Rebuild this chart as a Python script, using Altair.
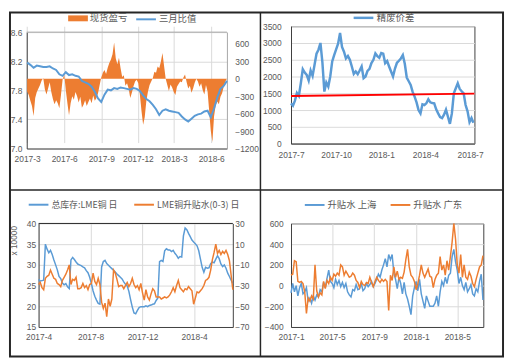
import altair as alt
import pandas as pd

# ---------------- data ----------------
# Panel 1: 现货盈亏 (right axis, every 4 days from 2017-03-01)
p1_pnl = [
    -220, -280, -380, -470, -640, -330, -230, -170, -110, -30,
    10, -180, -270, -170, -60, -230, -350, -440, -370, -420,
    -510, -280, -20, 70, -200, -420, -630, -420, -300, -360,
    -230, -300, -410, -310, -500, -450, -370, -470, -400, -340,
    -420, -290, -380, -330, -250, -110, 20, 100, 150, 80,
    190, 270, 330, 420, 620, 350, 250, 360, 180, 30,
    60, -120, -80, -170, -330, -240, -130, -50, -20, -80,
    -280, -560, -790, -660, -380, -220, -110, -50, 10, 120,
    100, 210, 180, 290, 440, 220, 0, -110, -210, -100,
    -150, -230, -280, -140, -90, -50, -60, 20, 70, -60,
    -170, -120, -240, -170, -70, 0, -50, -140, -80, -200,
    -270, -110, -220, -560, -900, -1090, -650, -460, -390, -440,
    -310, -250, -140, -50, 0,
]
# Panel 1: 三月比值 (left axis, every 8 days from 2017-03-01)
p1_ratio = [
    8.18, 8.15, 8.11, 8.14, 8.13, 8.12, 8.12, 8.13, 8.10, 8.08,
    8.02, 8.00, 8.05, 8.01, 8.02, 8.00, 7.99, 7.93, 7.91, 7.89,
    7.85, 7.78, 7.69, 7.64, 7.74, 7.81, 7.80, 7.83, 7.82, 7.84,
    7.83, 7.82, 7.81, 7.83, 7.82, 7.79, 7.73, 7.68, 7.65, 7.60,
    7.54, 7.46, 7.52, 7.54, 7.52, 7.51, 7.50, 7.49, 7.44, 7.40,
    7.37, 7.41, 7.45, 7.47, 7.48, 7.51, 7.52, 7.43, 7.55, 7.70,
    7.82, 7.86, 7.93,
]

# Panel 2: 精废价差 (every 4 days from 2017-07-01)
p2_spread = [
    1200, 1130, 1280, 1510, 1420, 1800, 2220, 2120, 2050, 1880,
    2180, 2020, 2350, 2680, 2800, 3000, 2420, 1550, 1820, 1700,
    2000, 2450, 2640, 2810, 2980, 3300, 2880, 2740, 2540, 2610,
    2500, 2300, 2080, 2150, 2070, 2180, 2300, 1950, 2000, 2170,
    2230, 2400, 2500, 2690, 2610, 2560, 2700, 2680, 2400, 2460,
    2300, 2150, 2000, 2240, 2410, 2470, 2540, 2640, 2380, 1970,
    1860, 1750, 1540, 1400, 1230, 1000, 900, 1170, 1150, 1200,
    1320, 1230, 1210, 1200, 1020, 900, 790, 760, 860, 1010,
    800, 590, 900, 1500, 1650, 1800, 1630, 1560, 1500, 1150,
    960, 640, 760, 620,
]
p2_red_dates = ["2017-07-01", "2018-07-10"]
p2_red_values = [1420, 1490]

# Panel 3: 总库存:LME铜 日 (left, x10000) and LME铜升贴水(0-3) 日 (right), every 4 days from 2017-04-01
p3_stock = [
    26.5, 26.1, 26.2, 26.3, 35.0, 33.8, 32.9, 33.5, 32.5, 31.2,
    30.0, 28.8, 27.2, 26.7, 25.6, 25.2, 25.5, 24.7, 24.3, 31.2,
    31.8, 31.3, 30.7, 30.2, 30.0, 29.8, 29.5, 29.3, 28.6, 28.1,
    27.0, 25.5, 23.7, 22.4, 21.5, 20.7, 20.5, 29.5, 30.8, 31.1,
    30.3, 29.9, 29.5, 29.1, 28.7, 28.3, 27.8, 27.4, 27.0, 26.6,
    25.9, 25.3, 24.9, 23.6, 21.6, 19.8, 18.4, 18.2, 19.0, 19.7,
    19.9, 19.9, 19.9, 20.1, 19.9, 20.2, 20.3, 20.5, 20.6, 21.4,
    22.0, 30.8, 31.1, 30.8, 33.4, 33.9, 33.6, 33.6, 33.2, 33.5,
    32.8, 32.3, 31.6, 32.0, 31.9, 37.0, 38.9, 38.5, 37.6, 36.8,
    36.0, 35.5, 35.1, 34.6, 33.4, 31.4, 29.4, 28.2, 29.4, 29.2,
    29.3, 30.3, 30.7, 30.5, 31.4, 32.2, 31.5, 30.2, 29.6, 30.0,
    29.2, 28.0, 27.2, 26.3, 25.5,
]
p3_lme_spread = [
    -29, -27, -32, -34, -23, -21, -20, -15, -19, -23,
    -24, -28, -29, -31, -25, -22, -19, -15, -10, -29,
    -24, -25, -22, -33, -33, -32, -28, -32, -30, -34,
    -29, -28, -18, -26, -29, -23, -29, -46, -52, -47,
    -60, -43, -50, -43, -15, -18, -24, -31, -30, -30,
    -33, -30, -27, -31, -28, -23, -29, -32, -30, -34,
    -28, -37, -44, -34, -41, -44, -38, -33, -35, -41,
    -41, -41, -43, -42, -41, -42, -41, -39, -36, -32,
    -36, -30, -25, -32, -34, -36, -33, -34, -31, -33,
    -35, -48, -42, -36, -37, -35, -33, -30, -25, -24,
    -22, -15, -5, 2, 10, 1, 4, 0, 3, 1,
    4, 0, -6, -20, -34,
]

# Panel 4: 升贴水 上海 / 升贴水 广东, every 5 days from 2017-01-01
p4_shanghai = [
    -70, 20, -60, 0, -100, -20, 20, -80, -60, -20,
    -150, -120, -170, -100, -140, -90, -110, -40, -60, 30,
    -20, 70, 150, 40, 20, -20, 60, 10, 50, -10,
    30, -20, 20, -60, -90, -110, -40, -50, 10, -40,
    -30, 20, -50, -30, 20, -10, 10, 40, -10, 20,
    60, 110, 80, 150, 200, 260, 180, 300, 250, 300,
    120, 60, -30, 80, 20, -80, 30, -80, -130, -200,
    -280, -100, -20, 40, -50, 60, -80, -150, -220, -100,
    -150, -200, -200, -200, -170, -100, -200, -60, 40, 0,
    80, 20, 100, 120, 280, 350, 230, 150, 20, 80,
    0, -40, 30, -60, -30, 10, -80, -100, -30, -60,
    40, 110, -140,
]
p4_guangdong = [
    100, 110, 240, 230, 40, 30, 40, 20, -60, -270,
    -120, -150, -100, -130, 200, -50, -110, -70, -90, 40,
    -30, 50, 20, 80, 50, 110, 90, 120, 100, 200,
    180, 100, 140, 110, 80, 90, 120, 100, 50, 30,
    -20, 40, 10, 0, 30, 20, 80, 30, -10, 40,
    80, 50, 30, 60, 40, 60, 40, -240, 100, 50,
    180, 80, 140, 60, 80, 70, 130, 250, 350, 180,
    100, 80, 40, -40, 20, 100, 200, 120, 80, 120,
    160, 90, 80, -20, 60, 100, 120, 280, 150, 200,
    100, 240, 150, 280, 420, 600, 450, 200, 120, 300,
    80, 200, 80, 60, 130, 90, 20, -10, 60, 120,
    180, 200, 290,
]

BLUE = "#5B9BD5"
ORANGE = "#ED7D31"
DARK = "#262626"
GRID_GRAY = "#A6A6A6"
LINE_KEY = "M-2,0H2"            # 20px wide legend line with symbolSize 100
AREA_KEY = "M-2,-0.6H2V0.6H-2Z"  # 20x6 legend patch with symbolSize 100


def dts(pairs):
    return [alt.DateTime(year=y, month=m, date=d) for y, m, d in pairs]


def series(start, values, freq, name):
    return pd.DataFrame({
        "date": pd.date_range(start, periods=len(values), freq=freq),
        "v": values,
        "s": name,
    })


def xaxis(values, grid, pad):
    return alt.Axis(values=dts(values), format="%Y-%-m", grid=grid, labelPadding=pad,
                    labelOverlap=False, labelFlush=False)


def legend(x, y, key, width, **kw):
    return alt.Legend(title=None, orient="none", legendX=x + 5, legendY=y,
                      symbolType=key, symbolSize=100, symbolStrokeWidth=width,
                      labelOffset=7, **kw)


one = pd.DataFrame({"k": [0]})

# ---------------- Panel 1 ----------------
df1a = series("2017-03-01", p1_pnl, "4D", "现货盈亏")
df1b = series("2017-03-01", p1_ratio, "8D", "三月比值")

x1 = alt.X("date:T", title=None,
           scale=alt.Scale(domain=dts([(2017, 2, 28), (2018, 7, 10)])),
           axis=xaxis([(2017, 3, 1), (2017, 6, 1), (2017, 9, 1), (2017, 12, 1),
                       (2018, 3, 1), (2018, 6, 1)], True, 6))

p1_area = alt.Chart(df1a).mark_area(opacity=1).encode(
    x=x1,
    y=alt.Y("v:Q", title=None,
            scale=alt.Scale(domain=[-1200, 800], range=[124, 6], nice=False, zero=False),
            axis=alt.Axis(orient="right", values=[-1200, -900, -600, -300, 0, 300, 600],
                          format="d", grid=False, labelPadding=8, domainColor=GRID_GRAY,
                          labelOverlap=False)),
    color=alt.Color("s:N", scale=alt.Scale(domain=["现货盈亏"], range=[ORANGE]),
                    legend=legend(42, -13, AREA_KEY, 0)),
)
p1_line = alt.Chart(df1b).mark_line(strokeWidth=2).encode(
    x=x1,
    y=alt.Y("v:Q", title=None,
            scale=alt.Scale(domain=[7.0, 8.6], range=[124, 6], nice=False, zero=False),
            axis=alt.Axis(orient="left", values=[7.0, 7.4, 7.8, 8.2, 8.6], format=".1f",
                          grid=True, labelPadding=5, labelOverlap=False)),
    stroke=alt.Stroke("s:N", scale=alt.Scale(domain=["三月比值"], range=[BLUE]),
                      legend=legend(110, -13, LINE_KEY, 2)),
)
p1_top = alt.Chart(one).mark_rule(stroke=GRID_GRAY, strokeWidth=1).encode(
    x=alt.value(0), x2=alt.value(203), y=alt.value(6))
frame = alt.Chart(one).mark_rect(fill="transparent", stroke=DARK, strokeWidth=2).encode(
    x=alt.value(-17), x2=alt.value(483), y=alt.value(-14), y2=alt.value(335))
vdiv = alt.Chart(one).mark_rule(stroke=DARK, strokeWidth=1.5).encode(
    x=alt.value(237), y=alt.value(-14), y2=alt.value(335))
hdiv = alt.Chart(one).mark_rule(stroke=DARK, strokeWidth=1.5).encode(
    x=alt.value(-17), x2=alt.value(483), y=alt.value(166))

p1 = alt.layer(p1_area, p1_line, p1_top, frame, vdiv, hdiv).resolve_scale(
    y="independent").properties(width=203, height=124,
                                view=alt.ViewBackground(stroke="transparent"))

# ---------------- Panel 2 ----------------
df2 = series("2017-07-01", p2_spread, "4D", "精废价差")
df2r = pd.DataFrame({"date": pd.to_datetime(p2_red_dates), "v": p2_red_values})

x2s = alt.X("date:T", title=None,
            scale=alt.Scale(domain=dts([(2017, 7, 1), (2018, 7, 10)])),
            axis=xaxis([(2017, 7, 1), (2017, 10, 1), (2018, 1, 1), (2018, 4, 1),
                        (2018, 7, 1)], False, 7))
y2s = alt.Y("v:Q", title=None, scale=alt.Scale(domain=[0, 3500], nice=False),
            axis=alt.Axis(values=list(range(0, 3501, 500)), format="d", grid=True,
                          labelPadding=10, labelOverlap=False))
p2_line = alt.Chart(df2).mark_line(strokeWidth=2.5).encode(
    x=x2s, y=y2s,
    color=alt.Color("s:N", scale=alt.Scale(domain=["精废价差"], range=[BLUE]),
                    legend=legend(62, -15, LINE_KEY, 2.5)),
)
p2_red = alt.Chart(df2r).mark_line(color="#FF0000", strokeWidth=2).encode(x=x2s, y=y2s)
p2 = alt.layer(p2_line, p2_red).properties(
    width=186, height=119, view=alt.ViewBackground(stroke="#404040", strokeWidth=1))

# ---------------- Panel 3 ----------------
p3_names = ["总库存:LME铜 日", "LME铜升贴水(0-3) 日"]
df3a = series("2017-04-01", p3_stock, "4D", p3_names[0])
df3b = series("2017-04-01", p3_lme_spread, "4D", p3_names[1])
x3s = alt.X("date:T", title=None,
            scale=alt.Scale(domain=dts([(2017, 4, 1), (2018, 7, 1)]), range=[12, 209]),
            axis=xaxis([(2017, 4, 1), (2017, 8, 1), (2017, 12, 1), (2018, 4, 1)], True, 6))
leg3 = legend(1, -25, LINE_KEY, 2, direction="horizontal", columnPadding=12,
              labelFontSize=9)
col3 = alt.Color("s:N", scale=alt.Scale(domain=p3_names, range=[BLUE, ORANGE]), legend=leg3)
p3_stock_line = alt.Chart(df3a).mark_line(strokeWidth=1.5).encode(
    x=x3s,
    y=alt.Y("v:Q", title="x 10000",
            scale=alt.Scale(domain=[15, 40], nice=False, zero=False),
            axis=alt.Axis(orient="left", values=[15, 20, 25, 30, 35, 40], grid=True,
                          offset=-12, labelPadding=3, titleX=-25, titleY=17,
                          titleAngle=270, titleAlign="center", titleBaseline="middle",
                          labelOverlap=False)),
    color=col3,
)
p3_spread_line = alt.Chart(df3b).mark_line(strokeWidth=1.5).encode(
    x=x3s,
    y=alt.Y("v:Q", title=None,
            scale=alt.Scale(domain=[-70, 30], nice=False, zero=False),
            axis=alt.Axis(orient="right", values=[-70, -50, -30, -10, 10, 30], grid=False,
                          labelPadding=2, labelOverlap=False)),
    color=col3,
)
p3_top = alt.Chart(one).mark_rule(stroke=DARK, strokeWidth=1).encode(
    x=alt.value(12), x2=alt.value(209), y=alt.value(0))
p3 = alt.layer(p3_stock_line, p3_spread_line, p3_top).resolve_scale(
    y="independent").properties(width=209, height=105,
                                view=alt.ViewBackground(stroke="transparent"))

# ---------------- Panel 4 ----------------
p4_names = ["升贴水 上海", "升贴水 广东"]
df4 = pd.concat([series("2017-01-01", p4_shanghai, "5D", p4_names[0]),
                 series("2017-01-01", p4_guangdong, "5D", p4_names[1])])
p4 = alt.Chart(df4).mark_line(strokeWidth=1.5).encode(
    x=alt.X("date:T", title=None,
            scale=alt.Scale(domain=dts([(2017, 1, 1), (2018, 7, 16)])),
            axis=xaxis([(2017, 1, 1), (2017, 5, 1), (2017, 9, 1), (2018, 1, 1),
                        (2018, 5, 1)], True, 6)),
    y=alt.Y("v:Q", title=None, scale=alt.Scale(domain=[-400, 600], nice=False),
            axis=alt.Axis(values=list(range(-400, 601, 200)), format="d", grid=True,
                          labelPadding=8, labelOverlap=False)),
    color=alt.Color("s:N", scale=alt.Scale(domain=p4_names, range=[BLUE, ORANGE]),
                    legend=legend(13, -25, LINE_KEY, 2, direction="horizontal",
                                  columnPadding=10)),
).properties(width=195, height=105,
             view=alt.ViewBackground(stroke="#404040", strokeWidth=1))

# ---------------- assemble ----------------
chart = alt.concat(
    p1, p2, p3, p4, columns=2, spacing={"row": 76, "column": 59}, bounds="flush"
).resolve_scale(
    color="independent", stroke="independent"
).properties(
    padding=0, background="white"
).configure_view(
    stroke="transparent"
).configure_axis(
    labelFont="Liberation Sans", labelFontSize=8.5, labelColor="#595959",
    titleFont="Liberation Sans", titleFontSize=8.5, titleColor="#595959",
    titleFontWeight="normal",
    ticks=False, gridColor="#D9D9D9", gridWidth=1,
    domainColor="#404040", domainWidth=1,
).configure_legend(
    labelFont="Noto Sans CJK SC", labelFontSize=9.5, labelColor="#595959",
    padding=0, labelLimit=200,
)

chart.save("out.html", embed_options={"renderer": "svg", "actions": False})
